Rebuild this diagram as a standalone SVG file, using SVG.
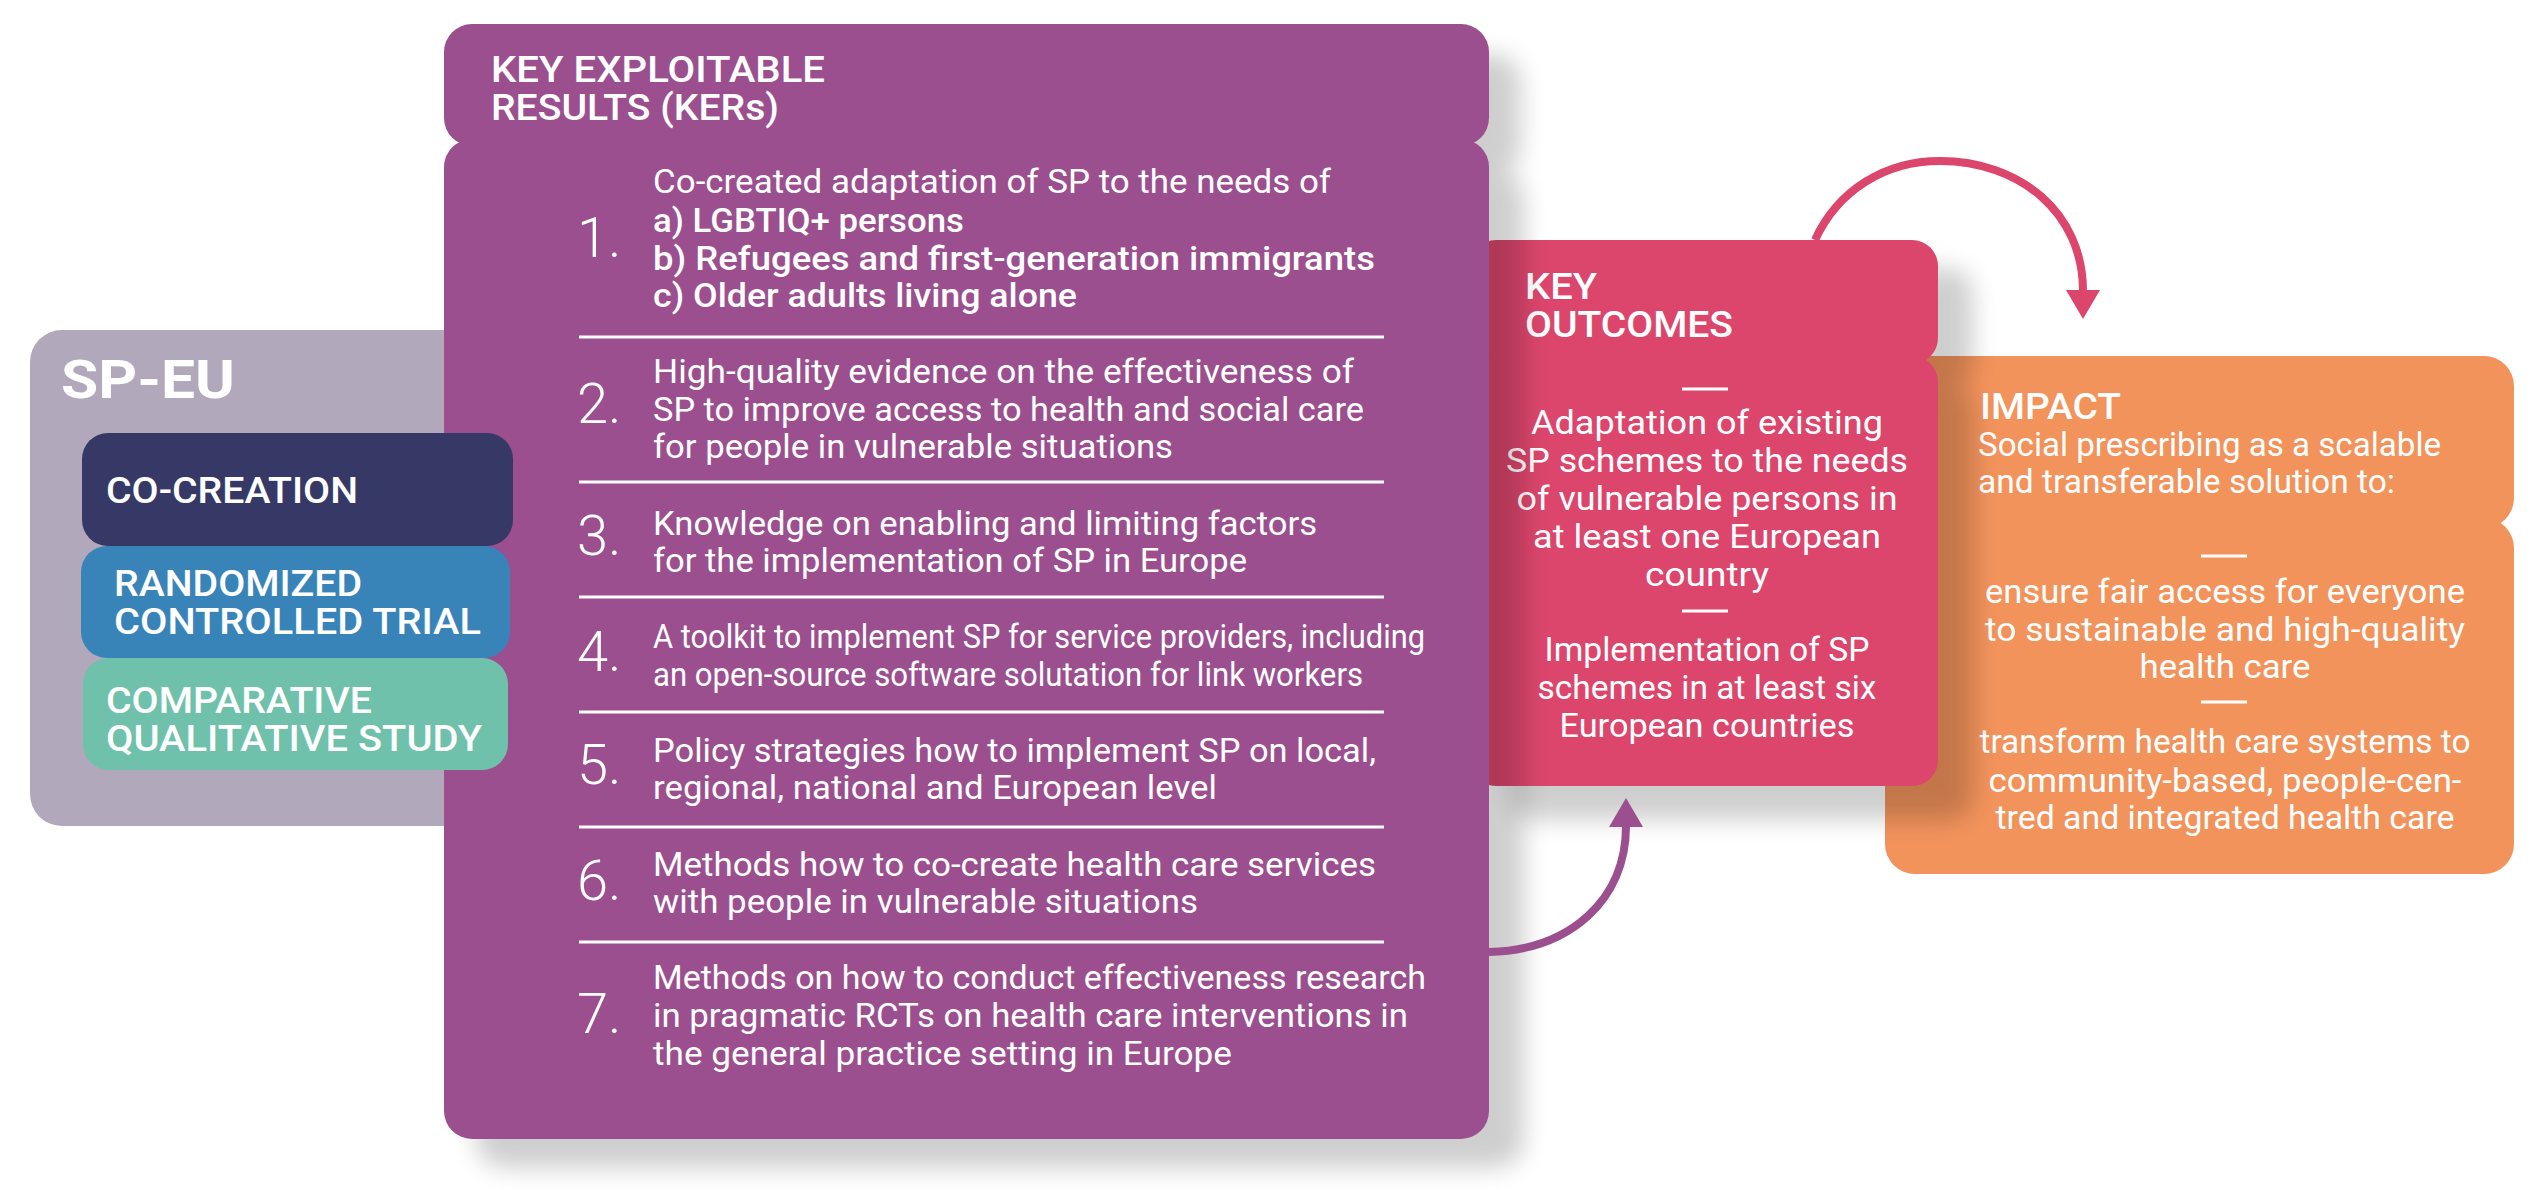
<svg xmlns="http://www.w3.org/2000/svg" width="2547" height="1190" viewBox="0 0 2547 1190">
<style>
text{font-family:"Roboto","Liberation Sans",sans-serif;fill:#fff;}
.b{font-size:34px;font-weight:400;}
.s{font-size:34px;font-weight:500;}
.h{font-size:37px;font-weight:500;}
.n{font-size:56px;font-weight:300;}
.m{font-size:37px;font-weight:500;}
.c{text-anchor:middle;}
.d{stroke:#fff;stroke-width:3;fill:none;}
.l{stroke:#fff;stroke-width:3;fill:none;}
.purple{fill:#9b4f8f;}
.pink{fill:#dc466c;}
.orange{fill:#f2935c;}
.shadow{fill:#000;opacity:.19;filter:url(#blur);}
</style>
<defs>
<filter id="blur" x="-10%" y="-10%" width="120%" height="120%"><feGaussianBlur stdDeviation="12"/></filter>
<marker id="ap" markerUnits="userSpaceOnUse" markerWidth="30" markerHeight="34" viewBox="0 0 30 34" refX="1" refY="17" orient="auto"><path d="M0 0L29 17L0 34Z" fill="#9b4f8f"/></marker>
<marker id="ar" markerUnits="userSpaceOnUse" markerWidth="30" markerHeight="34" viewBox="0 0 30 34" refX="1" refY="17" orient="auto"><path d="M0 0L29 17L0 34Z" fill="#dc466c"/></marker>
</defs>
<rect width="2547" height="1190" fill="#fff"/>

<g id="node-sp-eu">
<rect x="30" y="330" width="560" height="496" rx="32" fill="#b1a8bb"/>
<text x="61" y="397.500" font-size="54" font-weight="700" textLength="174" lengthAdjust="spacingAndGlyphs">SP-EU</text>
</g>

<g id="node-impact">
<rect class="orange" x="1890" y="356" width="624" height="172" rx="30"/>
<rect class="orange" x="1885" y="518" width="629" height="356" rx="30"/>
<text class="m" x="1980" y="418.500" textLength="141" lengthAdjust="spacingAndGlyphs">IMPACT</text>
<text class="b" x="1978" y="456" textLength="463" lengthAdjust="spacingAndGlyphs">Social prescribing as a scalable</text>
<text class="b" x="1978" y="493" textLength="417" lengthAdjust="spacingAndGlyphs">and transferable solution to:</text>
<line class="d" x1="2201" y1="556" x2="2247" y2="556"/>
<text class="b c" x="2225" y="603" textLength="480" lengthAdjust="spacingAndGlyphs">ensure fair access for everyone</text>
<text class="b c" x="2225" y="641" textLength="480" lengthAdjust="spacingAndGlyphs">to sustainable and high-quality</text>
<text class="b c" x="2225" y="678" textLength="171" lengthAdjust="spacingAndGlyphs">health care</text>
<line class="d" x1="2201" y1="702" x2="2247" y2="702"/>
<text class="b c" x="2225" y="753" textLength="491" lengthAdjust="spacingAndGlyphs">transform health care systems to</text>
<text class="b c" x="2225" y="792" textLength="473" lengthAdjust="spacingAndGlyphs">community-based, people-cen-</text>
<text class="b c" x="2225" y="829" textLength="459" lengthAdjust="spacingAndGlyphs">tred and integrated health care</text>
</g>

<g id="node-key-outcomes">
<g class="shadow"><rect x="1510" y="268" width="463" height="120" rx="26"/><rect x="1510" y="384" width="463" height="436" rx="26"/></g>
<rect class="pink" x="1470" y="240" width="468" height="124" rx="26"/>
<rect class="pink" x="1470" y="356" width="468" height="430" rx="26"/>
<text class="m" x="1525" y="299" textLength="72" lengthAdjust="spacingAndGlyphs">KEY</text>
<text class="m" x="1525" y="337" textLength="208" lengthAdjust="spacingAndGlyphs">OUTCOMES</text>
<line class="d" x1="1682" y1="389" x2="1728" y2="389"/>
<text class="b c" x="1707" y="433.500" textLength="352" lengthAdjust="spacingAndGlyphs">Adaptation of existing</text>
<text class="b c" x="1707" y="472" textLength="402" lengthAdjust="spacingAndGlyphs">SP schemes to the needs</text>
<text class="b c" x="1707" y="510" textLength="381" lengthAdjust="spacingAndGlyphs">of vulnerable persons in</text>
<text class="b c" x="1707" y="548" textLength="348" lengthAdjust="spacingAndGlyphs">at least one European</text>
<text class="b c" x="1707" y="586" textLength="124" lengthAdjust="spacingAndGlyphs">country</text>
<line class="d" x1="1682" y1="611" x2="1728" y2="611"/>
<text class="b c" x="1707" y="661" textLength="325" lengthAdjust="spacingAndGlyphs">Implementation of SP</text>
<text class="b c" x="1707" y="699" textLength="339" lengthAdjust="spacingAndGlyphs">schemes in at least six</text>
<text class="b c" x="1707" y="737" textLength="295" lengthAdjust="spacingAndGlyphs">European countries</text>
</g>

<g id="node-kers">
<g class="shadow"><rect x="476" y="54" width="1045" height="120" rx="28"/><rect x="476" y="170" width="1048" height="998" rx="28"/></g>
<rect class="purple" x="444" y="24" width="1045" height="122" rx="28"/>
<rect class="purple" x="444" y="139" width="1045" height="1000" rx="28"/>
<text class="h" x="491" y="81.500" textLength="334" lengthAdjust="spacingAndGlyphs">KEY EXPLOITABLE</text>
<text class="h" x="491" y="120" textLength="288" lengthAdjust="spacingAndGlyphs">RESULTS (KERs)</text>

<text class="n" x="577" y="257">1.</text>
<text class="b" x="653" y="193" textLength="678" lengthAdjust="spacingAndGlyphs">Co-created adaptation of SP to the needs of</text>
<text class="s" x="653" y="231.500" textLength="311" lengthAdjust="spacingAndGlyphs">a) LGBTIQ+ persons</text>
<text class="s" x="653" y="269.500" textLength="722" lengthAdjust="spacingAndGlyphs">b) Refugees and first-generation immigrants</text>
<text class="s" x="653" y="307" textLength="424" lengthAdjust="spacingAndGlyphs">c) Older adults living alone</text>
<line class="l" x1="579" y1="337" x2="1384" y2="337"/>

<text class="n" x="577" y="423">2.</text>
<text class="b" x="653" y="383" textLength="701" lengthAdjust="spacingAndGlyphs">High-quality evidence on the effectiveness of</text>
<text class="b" x="653" y="421" textLength="711" lengthAdjust="spacingAndGlyphs">SP to improve access to health and social care</text>
<text class="b" x="653" y="458" textLength="520" lengthAdjust="spacingAndGlyphs">for people in vulnerable situations</text>
<line class="l" x1="579" y1="482" x2="1384" y2="482"/>

<text class="n" x="577" y="555">3.</text>
<text class="b" x="653" y="535" textLength="664" lengthAdjust="spacingAndGlyphs">Knowledge on enabling and limiting factors</text>
<text class="b" x="653" y="572" textLength="594" lengthAdjust="spacingAndGlyphs">for the implementation of SP in Europe</text>
<line class="l" x1="579" y1="597" x2="1384" y2="597"/>

<text class="n" x="577" y="671">4.</text>
<text class="b" x="653" y="648" textLength="772" lengthAdjust="spacingAndGlyphs">A toolkit to implement SP for service providers, including</text>
<text class="b" x="653" y="686" textLength="710" lengthAdjust="spacingAndGlyphs">an open-source software solutation for link workers</text>
<line class="l" x1="579" y1="712" x2="1384" y2="712"/>

<text class="n" x="577" y="784">5.</text>
<text class="b" x="653" y="762" textLength="723" lengthAdjust="spacingAndGlyphs">Policy strategies how to implement SP on local,</text>
<text class="b" x="653" y="799" textLength="564" lengthAdjust="spacingAndGlyphs">regional, national and European level</text>
<line class="l" x1="579" y1="827" x2="1384" y2="827"/>

<text class="n" x="577" y="900">6.</text>
<text class="b" x="653" y="876" textLength="723" lengthAdjust="spacingAndGlyphs">Methods how to co-create health care services</text>
<text class="b" x="653" y="913" textLength="545" lengthAdjust="spacingAndGlyphs">with people in vulnerable situations</text>
<line class="l" x1="579" y1="942" x2="1384" y2="942"/>

<text class="n" x="577" y="1033">7.</text>
<text class="b" x="653" y="989" textLength="773" lengthAdjust="spacingAndGlyphs">Methods on how to conduct effectiveness research</text>
<text class="b" x="653" y="1027" textLength="755" lengthAdjust="spacingAndGlyphs">in pragmatic RCTs on health care interventions in</text>
<text class="b" x="653" y="1065" textLength="579" lengthAdjust="spacingAndGlyphs">the general practice setting in Europe</text>
</g>

<g id="node-co-creation">
<rect x="82" y="433" width="431" height="113" rx="26" fill="#363966"/>
<text class="m" x="106" y="502.500" textLength="252" lengthAdjust="spacingAndGlyphs">CO-CREATION</text>
</g>
<g id="node-rct">
<rect x="81" y="546" width="429" height="112" rx="26" fill="#3884b9"/>
<text class="m" x="114" y="596" textLength="248" lengthAdjust="spacingAndGlyphs">RANDOMIZED</text>
<text class="m" x="114" y="634" textLength="367" lengthAdjust="spacingAndGlyphs">CONTROLLED TRIAL</text>
</g>
<g id="node-comparative">
<rect x="83" y="658" width="425" height="112" rx="26" fill="#70c1ab"/>
<text class="m" x="106" y="712.500" textLength="266" lengthAdjust="spacingAndGlyphs">COMPARATIVE</text>
<text class="m" x="106" y="751" textLength="376" lengthAdjust="spacingAndGlyphs">QUALITATIVE STUDY</text>
</g>

<g id="connectors" fill="none">
<path d="M1489 952C1570 950 1626 900 1626 826" stroke="#9b4f8f" stroke-width="8" marker-end="url(#ap)"/>
<path d="M1815 240C1838 190 1885 161 1940 161C2019 161 2083 212 2083 291" stroke="#dc466c" stroke-width="8" marker-end="url(#ar)"/>
</g>
</svg>
